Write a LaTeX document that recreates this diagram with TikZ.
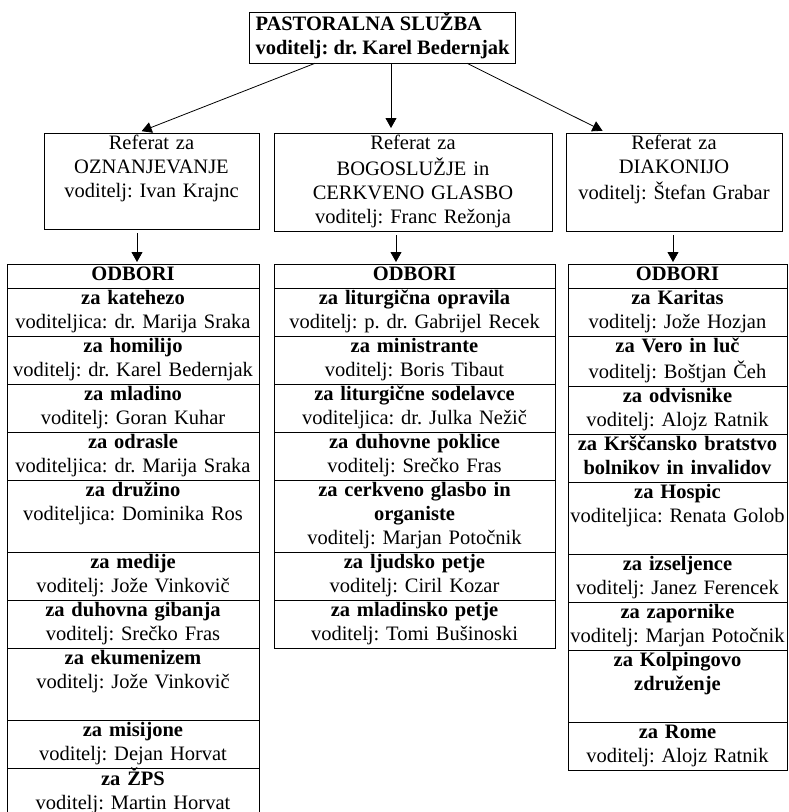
\documentclass[tikz,border=0pt]{standalone}
\usepackage{fontspec}
\setmainfont{Liberation Serif}
\usetikzlibrary{positioning, arrows.meta, calc}

\newcommand{\os}{\rule[-7.5pt]{0pt}{24pt}}
\newcommand{\odb}[2]{\textbf{#1}\os\\#2\os}
\hyphenpenalty=10000
\frenchspacing

\begin{document}
\begin{tikzpicture}[x=1pt, y=-1pt, ->, >={Triangle[length=10pt,width=11pt]}, line width=0.8pt,
    box/.style={draw, outer sep=0pt, inner xsep=1pt, inner ysep=0pt, align=center, anchor=north,
        font=\fontsize{20.5}{24}\selectfont\frenchspacing},
    odbor/.style={box, text width=#1}]
    \useasboundingbox (0,0) rectangle (789,812);

    \node (top) [box, align=left, inner xsep=6pt, inner ysep=1pt] at (382.5,12)
        {\textbf{PASTORALNA SLUŽBA}\os\\\textbf{voditelj: dr. Karel Bedernjak}\os};

    \node (ozn) [odbor=213pt] at (151.5,133) {Referat za\os\\OZNANJEVANJE\os\\voditelj: Ivan Krajnc\os\\\os};
    \node (bog) [odbor=276pt] at (413,133) {Referat za\os\\BOGOSLUŽJE in\os\\CERKVENO GLASBO\os\\voditelj: Franc Režonja\os};
    \node (dia) [odbor=214pt] at (674,133) {Referat za\os\\DIAKONIJO\os\\voditelj: Štefan Grabar\os\\\os};

    \path ([xshift=-67.5pt]top.south) edge [shorten >=5pt] ([xshift=-14.5pt]ozn.north);
    \path ([xshift=8.5pt]top.south) edge [shorten >=5pt] ([xshift=-22pt]bog.north);
    \path ([xshift=84.5pt]top.south) edge [shorten >=5pt] ([xshift=-67pt]dia.north);

    % odbori - oznanjevanje
    \node (l0) [odbor=250pt] at (133,264) {\textbf{ODBORI}\os};
    \node (l1) [odbor=250pt, below=0pt of l0] {\odb{za katehezo}{voditeljica: dr. Marija Sraka}};
    \node (l2) [odbor=250pt, below=0pt of l1] {\odb{za homilijo}{voditelj: dr. Karel Bedernjak}};
    \node (l3) [odbor=250pt, below=0pt of l2] {\odb{za mladino}{voditelj: Goran Kuhar}};
    \node (l4) [odbor=250pt, below=0pt of l3] {\odb{za odrasle}{voditeljica: dr. Marija Sraka}};
    \node (l5) [odbor=250pt, below=0pt of l4] {\odb{za družino}{voditeljica: Dominika Ros}\\\os};
    \node (l6) [odbor=250pt, below=0pt of l5] {\odb{za medije}{voditelj: Jože Vinkovič}};
    \node (l7) [odbor=250pt, below=0pt of l6] {\odb{za duhovna gibanja}{voditelj: Srečko Fras}};
    \node (l8) [odbor=250pt, below=0pt of l7] {\odb{za ekumenizem}{voditelj: Jože Vinkovič}\\\os};
    \node (l9) [odbor=250pt, below=0pt of l8] {\odb{za misijone}{voditelj: Dejan Horvat}};
    \node (l10) [odbor=250pt, below=0pt of l9] {\odb{za ŽPS}{voditelj: Martin Horvat}};

    % odbori - bogosluzje
    \node (m0) [odbor=279pt] at (414.5,264) {\textbf{ODBORI}\os};
    \node (m1) [odbor=279pt, below=0pt of m0] {\odb{za liturgična opravila}{voditelj: p. dr. Gabrijel Recek}};
    \node (m2) [odbor=279pt, below=0pt of m1] {\odb{za ministrante}{voditelj: Boris Tibaut}};
    \node (m3) [odbor=279pt, below=0pt of m2] {\odb{za liturgične sodelavce}{voditeljica: dr. Julka Nežič}};
    \node (m4) [odbor=279pt, below=0pt of m3] {\odb{za duhovne poklice}{voditelj: Srečko Fras}};
    \node (m5) [odbor=279pt, below=0pt of m4] {\textbf{za cerkveno glasbo in}\os\\\odb{organiste}{voditelj: Marjan Potočnik}};
    \node (m6) [odbor=279pt, below=0pt of m5] {\odb{za ljudsko petje}{voditelj: Ciril Kozar}};
    \node (m7) [odbor=279pt, below=0pt of m6] {\odb{za mladinsko petje}{voditelj: Tomi Bušinoski}};

    % odbori - diakonija
    \node (r0) [odbor=217pt] at (677.5,264) {\textbf{ODBORI}\os};
    \node (r1) [odbor=217pt, below=0pt of r0] {\odb{za Karitas}{voditelj: Jože Hozjan}};
    \node (r2) [odbor=217pt, below=0pt of r1] {\odb{za Vero in luč}{voditelj: Boštjan Čeh}};
    \node (r3) [odbor=217pt, below=0pt of r2] {\odb{za odvisnike}{voditelj: Alojz Ratnik}};
    \node (r4) [odbor=217pt, below=0pt of r3] {\textbf{za Krščansko bratstvo}\os\\\textbf{bolnikov in invalidov}\os};
    \node (r5) [odbor=217pt, below=0pt of r4] {\odb{za Hospic}{voditeljica: Renata Golob}\\\os};
    \node (r6) [odbor=217pt, below=0pt of r5] {\odb{za izseljence}{voditelj: Janez Ferencek}};
    \node (r7) [odbor=217pt, below=0pt of r6] {\odb{za zapornike}{voditelj: Marjan Potočnik}};
    \node (r8) [odbor=217pt, below=0pt of r7] {\textbf{za Kolpingovo}\os\\\textbf{združenje}\os\\\os};
    \node (r9) [odbor=217pt, below=0pt of r8] {\odb{za Rome}{voditelj: Alojz Ratnik}};

    \path ([xshift=-14.5pt]ozn.south) edge [shorten <=4pt, shorten >=2pt] ([xshift=4pt]l0.north);
    \path ([xshift=-17pt]bog.south) edge [shorten <=4pt, shorten >=2pt] ([xshift=-18.5pt]m0.north);
    \path ([xshift=-1pt]dia.south) edge [shorten <=4pt, shorten >=2pt] ([xshift=-4.5pt]r0.north);
\end{tikzpicture}
\end{document}
